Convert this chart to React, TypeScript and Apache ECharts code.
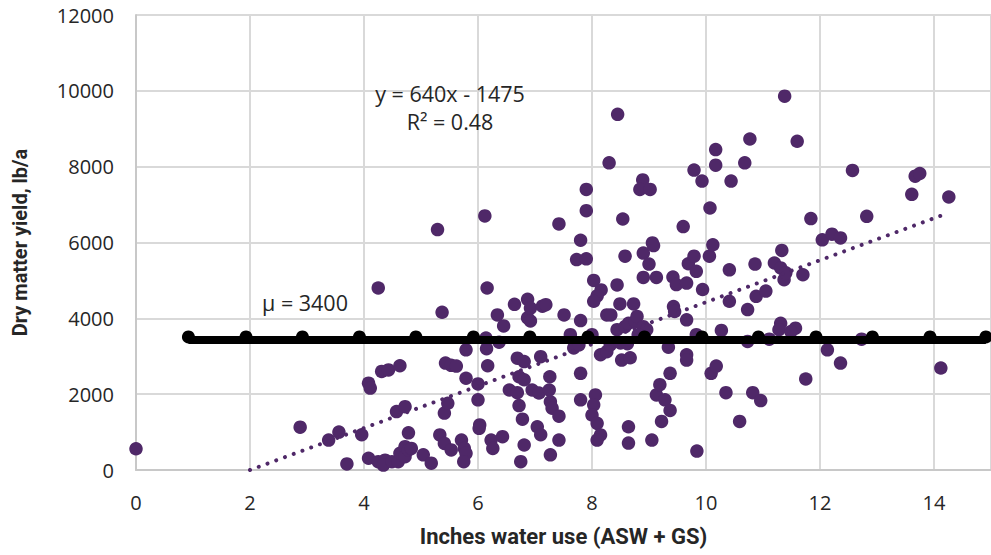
import React, { useEffect, useRef } from "react";
import * as echarts from "echarts";

// Inches water use (ASW + GS)
const waterUse = [
  0, 2.88, 3.38, 3.56, 3.7, 3.96, 4.08, 4.11, 4.08, 4.25,
  4.25, 4.31, 4.43, 4.37, 4.34, 4.49, 4.57, 4.6, 4.63, 4.63,
  4.72, 4.72, 4.72, 4.78, 4.78, 4.83, 5.04, 5.18, 5.29, 5.37,
  5.33, 5.41, 5.43, 5.53, 5.62, 5.41, 5.47, 5.53, 5.71, 5.76,
  5.79, 5.75, 5.79, 5.79, 6.0, 6.0, 6.03, 6.02, 6.12, 6.16,
  6.14, 6.15, 6.17, 6.23, 6.26, 6.34, 6.45, 6.37, 6.43, 6.55,
  6.64, 6.69, 6.69, 6.72, 6.72, 6.78, 6.75, 6.81, 6.81, 6.81,
  6.87, 6.87, 6.92, 6.92, 6.95, 7.04, 7.07, 7.1, 7.1, 7.13,
  7.19, 7.25, 7.26, 7.27, 7.3, 7.42, 7.27, 7.42, 7.42, 7.51,
  7.62, 7.68, 7.77, 7.8, 7.8, 7.8, 7.8, 7.73, 7.9, 7.9,
  7.9, 8.0, 8.03, 8.16, 8.09, 8.03, 8.06, 8.03, 8.0, 8.09,
  8.15, 8.09, 8.15, 8.26, 8.26, 8.33, 8.3, 8.32, 8.44, 8.45,
  8.44, 8.49, 8.52, 8.54, 8.58, 8.58, 8.64, 8.64, 8.64, 8.67,
  8.73, 8.76, 8.79, 8.89, 8.84, 9.02, 8.9, 8.9, 8.9, 8.96,
  9.0, 9.06, 9.08, 9.05, 9.13, 9.13, 9.19, 9.22, 9.28, 9.34,
  9.37, 9.37, 9.42, 9.43, 9.45, 9.48, 9.6, 9.66, 9.66, 9.66,
  9.66, 9.69, 9.79, 9.83, 9.79, 9.83, 9.84, 9.93, 9.94, 10.07,
  10.06, 10.12, 10.17, 10.17, 10.09, 10.18, 10.27, 10.35, 10.41, 10.41,
  10.44, 10.59, 10.68, 10.73, 10.73, 10.77, 10.82, 10.86, 10.88, 10.96,
  11.05, 11.11, 11.2, 11.31, 11.33, 11.37, 11.4, 11.38, 11.31, 11.28,
  11.57, 11.49, 11.6, 11.7, 11.75, 11.84, 12.04, 12.21, 12.36, 12.13,
  12.36, 12.57, 12.73, 12.82, 13.61, 13.67, 13.75, 14.12, 14.26, 8.5,
  8.62, 8.81,
];

// Dry matter yield, lb/a
const dmYield = [
  560, 1130, 790, 1000, 160, 930, 2290, 2160, 310, 4800,
  220, 2600, 2640, 260, 130, 220, 1540, 220, 2750, 440,
  1670, 350, 615, 980, 530, 570, 400, 180, 6340, 4160,
  925, 700, 2820, 2760, 2740, 1500, 1760, 530, 790, 570,
  440, 220, 3170, 2420, 2270, 1850, 1190, 1100, 6700, 4800,
  3480, 3200, 2750, 790, 570, 4090, 3800, 3370, 880, 2110,
  4370, 2950, 2040, 2460, 1700, 1340, 220, 660, 2860, 2380,
  4500, 4010, 4270, 3930, 2110, 1140, 2030, 2990, 930, 4320,
  4360, 2110, 2460, 1800, 1630, 1420, 400, 790, 6490, 4090,
  3570, 3220, 3300, 3940, 2550, 1850, 6060, 5550, 5570, 7400,
  6840, 3570, 5000, 4750, 4590, 4450, 1980, 1720, 1450, 1230,
  925, 790, 3040, 3120, 4090, 4090, 8100, 3300, 4880, 9380,
  3700, 4380, 2900, 6620, 5640, 3780, 3870, 1140, 710, 2960,
  4380, 3920, 4050, 7650, 7400, 7400, 5720, 5080, 3780, 3700,
  5430, 5990, 5920, 790, 5080, 1980, 2250, 1280, 1850, 3240,
  2550, 1570, 5090, 4310, 4180, 4890, 6420, 4930, 3960, 3040,
  2900, 5440, 5640, 5240, 7910, 3570, 500, 7620, 4760, 6910,
  5640, 5940, 8450, 8040, 2550, 2740, 3680, 2040, 5280, 4450,
  7620, 1280, 8100, 4230, 3390, 8730, 2040, 5430, 4580, 1830,
  4720, 3450, 5460, 5330, 5790, 5020, 5200, 9860, 3870, 3700,
  3740, 3650, 8670, 5150, 2400, 6630, 6070, 6220, 6120, 3170,
  2820, 7900, 3450, 6690, 7270, 7750, 7820, 2690, 7200, 3350,
  3330, 3570,
];

// Mean line (μ = 3400) markers
const meanX = [0.92, 1.93, 2.92, 3.92, 4.91, 5.92, 6.91, 7.93, 8.92, 9.93, 10.92, 11.93, 12.92, 13.93, 14.91];
const meanY = [3430, 3430, 3430, 3430, 3430, 3430, 3430, 3430, 3430, 3430, 3430, 3430, 3430, 3430, 3430];

// Linear trend line end points (as drawn)
const trendX = [2.0, 14.2];
const trendY = [0, 6750];

const equationText = "y = 640x - 1475";
const r2Text = "R² = 0.48";
const meanText = "μ = 3400";

const PURPLE = "#4f2868";
const TEXT = "#262626";
const FONT = "'Open Sans', 'Noto Sans', sans-serif";

export default function App() {
  const ref = useRef<HTMLDivElement>(null);

  useEffect(() => {
    if (!ref.current) return;
    const chart = echarts.init(ref.current, undefined, { renderer: "svg" });
    const points = waterUse.map((x, i) => [x, dmYield[i]]);
    const meanPts = meanX.map((x, i) => [x, meanY[i]]);
    const trendPts = trendX.map((x, i) => [x, trendY[i]]);

    chart.setOption({
      animation: false,
      backgroundColor: "#ffffff",
      grid: { left: 136, right: -6, top: 15, bottom: 85, containLabel: false },
      xAxis: {
        type: "value",
        min: 0,
        max: 15,
        interval: 2,
        axisLine: { show: true, onZero: false, lineStyle: { color: "#c8c8c8", width: 2 } },
        axisTick: { show: false },
        splitLine: { show: true, lineStyle: { color: "#d9d9d9", width: 2 } },
        axisLabel: {
          showMaxLabel: false,
          margin: 22,
          fontSize: 20,
          color: TEXT,
          fontFamily: FONT,
          formatter: (v: number) => String(v),
        },
        name: "Inches water use (ASW + GS)",
        nameLocation: "middle",
        nameGap: 55,
        nameTextStyle: {
          fontSize: 22,
          fontWeight: "bold",
          color: TEXT,
          fontFamily: "'Liberation Sans Narrow', 'Roboto', sans-serif",
        },
      },
      yAxis: {
        type: "value",
        min: 0,
        max: 12000,
        interval: 2000,
        axisLine: { show: true, lineStyle: { color: "#c8c8c8", width: 2 } },
        axisTick: { show: false },
        splitLine: { show: true, lineStyle: { color: "#d9d9d9", width: 2 } },
        axisLabel: {
          margin: 22,
          fontSize: 20,
          color: TEXT,
          fontFamily: FONT,
          formatter: (v: number) => String(v),
        },
        name: "Dry matter yield, lb/a",
        nameLocation: "middle",
        nameGap: 106,
        nameTextStyle: {
          fontSize: 20,
          fontWeight: "bold",
          color: TEXT,
          fontFamily: "'Roboto', sans-serif",
        },
      },
      series: [
        {
          type: "scatter",
          data: points,
          symbol: "circle",
          symbolSize: 13.5,
          itemStyle: { color: PURPLE, opacity: 1 },
          clip: false,
          z: 2,
        },
        {
          type: "line",
          data: trendPts,
          showSymbol: false,
          symbol: "none",
          lineStyle: { color: PURPLE, width: 4, type: [0.01, 9.3], cap: "round" },
          z: 3,
        },
        {
          type: "line",
          data: meanPts,
          symbol: "circle",
          symbolSize: 13,
          symbolOffset: [0, -3],
          showSymbol: true,
          itemStyle: { color: "#000000" },
          lineStyle: { color: "#000000", width: 8 },
          clip: false,
          z: 4,
        },
      ],
      graphic: [
        {
          type: "text",
          x: 450,
          y: 93,
          style: {
            text: equationText,
            fontSize: 21.5,
            fontFamily: FONT,
            fill: TEXT,
            align: "center",
            verticalAlign: "middle",
          },
          z: 10,
        },
        {
          type: "text",
          x: 450,
          y: 121,
          style: {
            text: r2Text,
            fontSize: 21.5,
            fontFamily: FONT,
            fill: TEXT,
            align: "center",
            verticalAlign: "middle",
          },
          z: 10,
        },
        {
          type: "text",
          x: 305,
          y: 302,
          style: {
            text: meanText,
            fontSize: 21.5,
            fontFamily: FONT,
            fill: TEXT,
            align: "center",
            verticalAlign: "middle",
          },
          z: 10,
        },
      ],
    });

    return () => chart.dispose();
  }, []);

  return (
    <div
      ref={ref}
      style={{ position: "absolute", left: 0, top: 0, width: 991, height: 555 }}
    />
  );
}
